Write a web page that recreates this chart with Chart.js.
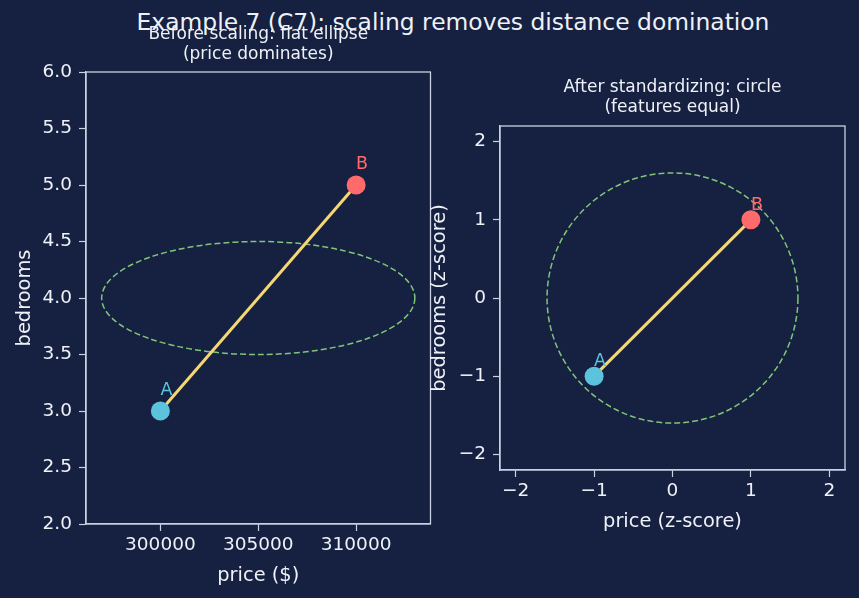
<!DOCTYPE html>
<html>
<head>
<meta charset="utf-8">
<script src="https://cdn.jsdelivr.net/npm/chart.js@4/dist/chart.umd.min.js"></script>
<style>
  html, body { margin: 0; padding: 0; background: #162040; }
  body { width: 859px; height: 598px; position: relative; overflow: hidden; font-family: "DejaVu Sans", sans-serif; }
  #suptitle { position: absolute; left: 0; width: 906px; top: 8px; text-align: center; color: #eef1f7; font-size: 23.4px; white-space: nowrap; }
  canvas { position: absolute; top: 0; }
  #leftChart { left: 0; }
  #rightChart { left: 420px; }
</style>
</head>
<body>
<div id="suptitle">Example 7 (C7): scaling removes distance domination</div>
<canvas id="leftChart" width="440" height="598"></canvas>
<canvas id="rightChart" width="439" height="598"></canvas>
<script>
// raw features for the two houses
const pointLabels = ['A', 'B'];
const priceRaw = [300000, 310000];
const bedroomsRaw = [3, 5];
// standardized features
const priceZ = [-1, 1];
const bedroomsZ = [-1, 1];

// distance contours: [centerX, centerY, radiusX, radiusY]
const ellipseRaw = [305000, 4, 8000, 0.5];
const circleZ = [0, 0, 1.6, 1.6];

const leftXTicks = [300000, 305000, 310000];
const leftYTicks = [2.0, 2.5, 3.0, 3.5, 4.0, 4.5, 5.0, 5.5, 6.0];
const zTicks = [-2, -1, 0, 1, 2];

const pointColors = ['#5bc4dc', '#ff6b6b'];
const lineColor = '#f5d773';
const contourColor = '#7fc57a';
const spineColor = '#c9d1e3';
const textColor = '#eef1f7';
const fontFamily = '"DejaVu Sans", sans-serif';

function minusSign(v) {
    return v < 0 ? '\u2212' + Math.abs(v) : String(v);
}

// dashed ellipse drawn through the chart's scales
const contourPlugin = {
    id: 'contour',
    beforeDatasetsDraw(chart, args, opts) {
        const {ctx, scales: {x, y}} = chart;
        const [cx, cy, rx, ry] = opts.shape;
        const px = x.getPixelForValue(cx);
        const py = y.getPixelForValue(cy);
        const prx = Math.abs(x.getPixelForValue(cx + rx) - px);
        const pry = Math.abs(y.getPixelForValue(cy + ry) - py);
        ctx.save();
        ctx.strokeStyle = contourColor;
        ctx.lineWidth = 1.5;
        ctx.setLineDash([6, 3]);
        ctx.beginPath();
        ctx.ellipse(px, py, prx, pry, 0, 0, Math.PI * 2);
        ctx.stroke();
        ctx.restore();
    }
};

// point names, frame and subtitle
const decorPlugin = {
    id: 'decor',
    afterDraw(chart, args, opts) {
        const {ctx, chartArea: a} = chart;
        const meta = chart.getDatasetMeta(1);
        ctx.save();
        ctx.font = '17.5px ' + fontFamily;
        ctx.textAlign = 'left';
        ctx.textBaseline = 'alphabetic';
        meta.data.forEach((el, i) => {
            ctx.fillStyle = pointColors[i];
            ctx.fillText(pointLabels[i], el.x, el.y - opts.labelOffset);
        });
        ctx.strokeStyle = spineColor;
        ctx.lineWidth = 1.3;
        ctx.strokeRect(a.left, a.top, a.right - a.left, a.bottom - a.top);
        ctx.fillStyle = textColor;
        ctx.font = '17px ' + fontFamily;
        ctx.textAlign = 'center';
        ctx.textBaseline = 'middle';
        const cx = (a.left + a.right) / 2;
        opts.subtitle.forEach((line, i) => {
            ctx.fillText(line, cx + opts.subtitleShift, opts.subtitleY + i * 20);
        });
        ctx.restore();
    }
};

function axis(ticks, range, title, fmt, fitSize, isX, titlePad) {
    return {
        type: 'linear',
        min: range[0],
        max: range[1],
        afterBuildTicks(scale) { scale.ticks = ticks.map(v => ({value: v})); },
        afterFit(scale) {
            if (isX) scale.height = fitSize; else scale.width = fitSize;
        },
        grid: { drawOnChartArea: false, drawTicks: true, tickLength: 7, color: spineColor, tickWidth: 1.2 },
        border: { display: true, color: spineColor, width: 1.3 },
        ticks: { color: textColor, font: { family: fontFamily, size: 18.5 }, padding: isX ? 3 : 7, callback: fmt, autoSkip: false, maxRotation: 0 },
        title: { display: true, text: title, color: textColor, font: { family: fontFamily, size: 19.4 }, padding: titlePad }
    };
}

function buildChart(id, xs, ys, shape, opts) {
    const pts = xs.map((v, i) => ({x: v, y: ys[i]}));
    return new Chart(document.getElementById(id), {
        type: 'scatter',
        data: {
            datasets: [
                { data: pts, showLine: true, borderColor: lineColor, borderWidth: 3, pointRadius: 0, order: 2 },
                { data: pts, pointRadius: 9.5, pointBackgroundColor: pointColors, pointBorderWidth: 0, showLine: false, order: 1 }
            ]
        },
        options: {
            responsive: false,
            animation: false,
            layout: { padding: opts.padding },
            plugins: {
                legend: { display: false },
                tooltip: { enabled: false },
                contour: { shape: shape },
                decor: { subtitle: opts.subtitle, subtitleY: opts.subtitleY, subtitleShift: opts.subtitleShift, labelOffset: opts.labelOffset }
            },
            scales: {
                x: axis(opts.xTicks, opts.xRange, opts.xTitle, opts.xFmt, 74, true, { top: 0, bottom: 10 }),
                y: axis(opts.yTicks, opts.yRange, opts.yTitle, opts.yFmt, opts.yWidth, false, { top: opts.yTitlePad, bottom: 0 })
            }
        },
        plugins: [contourPlugin, decorPlugin]
    });
}

buildChart('leftChart', priceRaw, bedroomsRaw, ellipseRaw, {
    padding: { top: 72, right: 9, bottom: 0, left: 0 },
    xTicks: leftXTicks, xRange: [296200, 313800], xTitle: 'price ($)', xFmt: v => String(v),
    yTicks: leftYTicks, yRange: [2.0, 6.0], yTitle: 'bedrooms', yFmt: v => v.toFixed(1),
    yWidth: 86, yTitlePad: 13,
    subtitle: ['Before scaling: flat ellipse', '(price dominates)'], subtitleY: 35, subtitleShift: 0,
    labelOffset: 16
});

buildChart('rightChart', priceZ, bedroomsZ, circleZ, {
    padding: { top: 126, right: 14, bottom: 54, left: 0 },
    xTicks: zTicks, xRange: [-2.2, 2.2], xTitle: 'price (z-score)', xFmt: minusSign,
    yTicks: zTicks, yRange: [-2.2, 2.2], yTitle: 'bedrooms (z-score)', yFmt: minusSign,
    yWidth: 80, yTitlePad: 8,
    subtitle: ['After standardizing: circle', '(features equal)'], subtitleY: 88, subtitleShift: 0,
    labelOffset: 10
});
</script>
</body>
</html>
